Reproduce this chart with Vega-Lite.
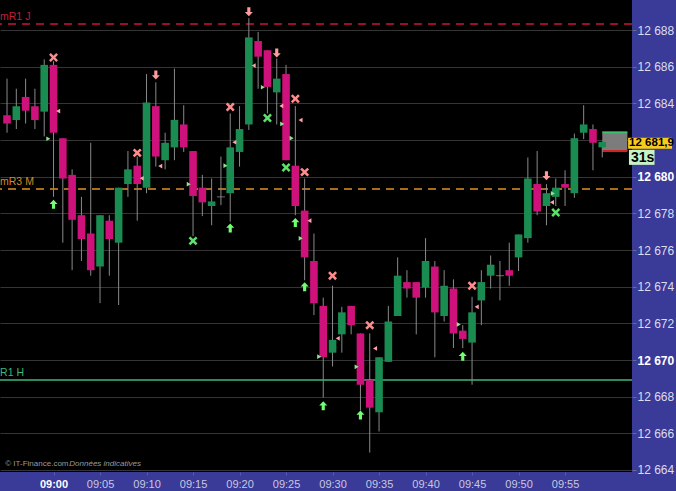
{
  "$schema": "https://vega.github.io/schema/vega-lite/v6.json",
  "width": 632,
  "height": 472,
  "autosize": {"type": "none"},
  "padding": {"left": 0, "top": 0, "right": 44, "bottom": 19},
  "background": "#3a3a98",
  "view": {"fill": "#000000", "stroke": null},
  "config": {"font": "Liberation Sans"},
  "resolve": {"scale": {"color": "independent", "shape": "independent", "strokeDash": "independent"}},
  "datasets": {
    "candles": [
      {"m": -5, "o": 12683.35, "h": 12685.35, "l": 12682.4, "c": 12682.9},
      {"m": -4, "o": 12683.1, "h": 12684.8, "l": 12682.6, "c": 12683.85},
      {"m": -3, "o": 12684.35, "h": 12685.35, "l": 12682.9, "c": 12683.6},
      {"m": -2, "o": 12683.85, "h": 12684.8, "l": 12682.6, "c": 12683.1},
      {"m": -1, "o": 12683.55, "h": 12686.4, "l": 12682.2, "c": 12686.1},
      {"m": 0, "o": 12686.1, "h": 12686.3, "l": 12678.9, "c": 12682.4},
      {"m": 1, "o": 12682.1, "h": 12682.1, "l": 12676.4, "c": 12679.9},
      {"m": 2, "o": 12680.1, "h": 12680.4, "l": 12674.9, "c": 12677.65},
      {"m": 3, "o": 12677.9, "h": 12678.9, "l": 12675.4, "c": 12676.6},
      {"m": 4, "o": 12676.9, "h": 12681.85, "l": 12674.6, "c": 12674.9},
      {"m": 5, "o": 12675.1, "h": 12677.9, "l": 12673.1, "c": 12677.9},
      {"m": 6, "o": 12677.6, "h": 12677.9, "l": 12674.6, "c": 12676.6},
      {"m": 7, "o": 12676.4, "h": 12679.4, "l": 12673.0, "c": 12679.4},
      {"m": 8, "o": 12679.6, "h": 12681.4, "l": 12678.9, "c": 12680.4},
      {"m": 9, "o": 12680.6, "h": 12681.1, "l": 12677.6, "c": 12679.6},
      {"m": 10, "o": 12679.4, "h": 12685.6, "l": 12679.1, "c": 12684.05},
      {"m": 11, "o": 12683.85, "h": 12685.15, "l": 12680.55, "c": 12681.1},
      {"m": 12, "o": 12680.9, "h": 12682.4, "l": 12680.4, "c": 12681.85},
      {"m": 13, "o": 12681.6, "h": 12685.9, "l": 12680.9, "c": 12683.1},
      {"m": 14, "o": 12682.85, "h": 12683.9, "l": 12681.35, "c": 12681.6},
      {"m": 15, "o": 12681.4, "h": 12681.4, "l": 12676.75, "c": 12678.95},
      {"m": 16, "o": 12679.4, "h": 12680.1, "l": 12677.85, "c": 12678.6},
      {"m": 17, "o": 12678.4, "h": 12679.9, "l": 12677.35, "c": 12678.65},
      {"m": 18, "o": 12678.9, "h": 12681.1, "l": 12678.45, "c": 12678.9},
      {"m": 19, "o": 12679.1, "h": 12683.45, "l": 12677.55, "c": 12681.6},
      {"m": 20, "o": 12681.35, "h": 12683.85, "l": 12680.55, "c": 12682.6},
      {"m": 21, "o": 12682.85, "h": 12688.65, "l": 12682.55, "c": 12687.6},
      {"m": 22, "o": 12687.4, "h": 12687.9, "l": 12684.8, "c": 12686.55},
      {"m": 23, "o": 12686.9, "h": 12686.9, "l": 12683.45, "c": 12684.9},
      {"m": 24, "o": 12684.6, "h": 12686.45, "l": 12682.85, "c": 12685.35},
      {"m": 25, "o": 12685.6, "h": 12686.1, "l": 12680.9, "c": 12680.9},
      {"m": 26, "o": 12680.6, "h": 12683.85, "l": 12677.9, "c": 12678.4},
      {"m": 27, "o": 12678.15, "h": 12679.9, "l": 12674.35, "c": 12675.6},
      {"m": 28, "o": 12675.4, "h": 12676.9, "l": 12672.45, "c": 12673.1},
      {"m": 29, "o": 12672.95, "h": 12673.4, "l": 12667.95, "c": 12670.15},
      {"m": 30, "o": 12670.4, "h": 12674.05, "l": 12669.65, "c": 12671.1},
      {"m": 31, "o": 12671.4, "h": 12672.9, "l": 12670.4, "c": 12672.6},
      {"m": 32, "o": 12672.95, "h": 12672.95, "l": 12671.4, "c": 12671.9},
      {"m": 33, "o": 12671.45, "h": 12671.45, "l": 12667.25, "c": 12668.65},
      {"m": 34, "o": 12668.9, "h": 12671.45, "l": 12664.95, "c": 12667.4},
      {"m": 35, "o": 12667.15, "h": 12670.15, "l": 12666.1, "c": 12670.15},
      {"m": 36, "o": 12669.9, "h": 12672.95, "l": 12669.9, "c": 12672.1},
      {"m": 37, "o": 12672.4, "h": 12675.6, "l": 12672.4, "c": 12674.6},
      {"m": 38, "o": 12674.25, "h": 12674.9, "l": 12673.4, "c": 12673.9},
      {"m": 39, "o": 12674.25, "h": 12674.25, "l": 12671.4, "c": 12673.4},
      {"m": 40, "o": 12673.95, "h": 12676.65, "l": 12673.4, "c": 12675.4},
      {"m": 41, "o": 12675.1, "h": 12675.4, "l": 12670.15, "c": 12672.6},
      {"m": 42, "o": 12672.4, "h": 12674.9, "l": 12672.1, "c": 12674.05},
      {"m": 43, "o": 12673.9, "h": 12674.4, "l": 12670.65, "c": 12671.45},
      {"m": 44, "o": 12671.6, "h": 12671.9, "l": 12670.65, "c": 12671.15},
      {"m": 45, "o": 12670.95, "h": 12673.45, "l": 12668.65, "c": 12672.6},
      {"m": 46, "o": 12673.25, "h": 12674.9, "l": 12671.9, "c": 12674.25},
      {"m": 47, "o": 12674.6, "h": 12675.7, "l": 12673.9, "c": 12675.2},
      {"m": 48, "o": 12674.6, "h": 12675.4, "l": 12673.25, "c": 12674.6},
      {"m": 49, "o": 12674.9, "h": 12676.4, "l": 12674.05, "c": 12674.6},
      {"m": 50, "o": 12675.6, "h": 12676.85, "l": 12674.85, "c": 12676.85},
      {"m": 51, "o": 12676.65, "h": 12681.05, "l": 12676.4, "c": 12679.9},
      {"m": 52, "o": 12679.6, "h": 12681.4, "l": 12677.9, "c": 12678.1},
      {"m": 53, "o": 12678.4, "h": 12679.6, "l": 12677.35, "c": 12679.1},
      {"m": 54, "o": 12678.9, "h": 12679.9, "l": 12678.4, "c": 12679.4},
      {"m": 55, "o": 12679.6, "h": 12680.35, "l": 12678.4, "c": 12679.4},
      {"m": 56, "o": 12679.1, "h": 12682.35, "l": 12678.85, "c": 12682.1},
      {"m": 57, "o": 12682.4, "h": 12683.9, "l": 12682.05, "c": 12682.85},
      {"m": 58, "o": 12682.6, "h": 12682.85, "l": 12680.35, "c": 12681.85},
      {"m": 59, "o": 12681.6, "h": 12681.9, "l": 12681.05, "c": 12681.9}
    ],
    "levels": [
      {"name": "mR1 J", "p": 12688.33},
      {"name": "mR3 M", "p": 12679.33},
      {"name": "R1 H", "p": 12668.91}
    ],
    "signals": [
      {"m": 0, "p": 12686.5, "kind": "xp"},
      {"m": 9, "p": 12681.3, "kind": "xp"},
      {"m": 19, "p": 12683.8, "kind": "xp"},
      {"m": 26, "p": 12684.25, "kind": "xp"},
      {"m": 27, "p": 12680.25, "kind": "xp"},
      {"m": 30, "p": 12674.6, "kind": "xp"},
      {"m": 34, "p": 12671.9, "kind": "xp"},
      {"m": 45, "p": 12674.05, "kind": "xp"},
      {"m": 15, "p": 12676.5, "kind": "xg"},
      {"m": 23, "p": 12683.2, "kind": "xg"},
      {"m": 25, "p": 12680.5, "kind": "xg"},
      {"m": 54, "p": 12678.05, "kind": "xg"},
      {"m": 11, "p": 12685.55, "kind": "dn"},
      {"m": 21, "p": 12689.0, "kind": "dn"},
      {"m": 24, "p": 12686.75, "kind": "dn"},
      {"m": 53, "p": 12680.05, "kind": "dn"},
      {"m": 0, "p": 12678.5, "kind": "up"},
      {"m": 19, "p": 12677.2, "kind": "up"},
      {"m": 26, "p": 12677.5, "kind": "up"},
      {"m": 27, "p": 12674.0, "kind": "up"},
      {"m": 29, "p": 12667.5, "kind": "up"},
      {"m": 33, "p": 12667.0, "kind": "up"},
      {"m": 44, "p": 12670.2, "kind": "up"},
      {"m": -0.56, "p": 12682.07, "kind": "tr"},
      {"m": 0.5, "p": 12683.58, "kind": "tl"},
      {"m": 9.49, "p": 12679.91, "kind": "tl"},
      {"m": 11.47, "p": 12680.58, "kind": "tl"},
      {"m": 14.54, "p": 12679.59, "kind": "tr"},
      {"m": 18.49, "p": 12680.6, "kind": "tr"},
      {"m": 19.44, "p": 12681.88, "kind": "tl"},
      {"m": 21.52, "p": 12686.06, "kind": "tl"},
      {"m": 22.51, "p": 12684.88, "kind": "tr"},
      {"m": 24.49, "p": 12683.86, "kind": "tl"},
      {"m": 24.59, "p": 12682.88, "kind": "tr"},
      {"m": 25.6, "p": 12682.1, "kind": "tr"},
      {"m": 26.56, "p": 12683.09, "kind": "tl"},
      {"m": 27.51, "p": 12677.6, "kind": "tl"},
      {"m": 26.58, "p": 12676.64, "kind": "tr"},
      {"m": 30.56, "p": 12671.18, "kind": "tl"},
      {"m": 28.57, "p": 12670.18, "kind": "tr"},
      {"m": 32.59, "p": 12669.63, "kind": "tr"},
      {"m": 34.57, "p": 12670.63, "kind": "tl"},
      {"m": 43.57, "p": 12671.94, "kind": "tr"},
      {"m": 45.5, "p": 12672.9, "kind": "tl"},
      {"m": 53.69, "p": 12679.09, "kind": "tr"},
      {"m": 53.59, "p": 12678.6, "kind": "tl"}
    ],
    "spread": [{"m": 59, "m2": 61.7, "lo": 12681.4, "hi": 12682.42}],
    "quote": [{"p": 12681.9, "label": "12 681,9", "timer": "31s"}],
    "credit": [{"a": "© IT-Finance.com", "b": "Données indicatives"}]
  },
  "layer": [
    {
      "data": {"name": "spread"},
      "mark": {"type": "rect", "color": "#7c7c7c"},
      "encoding": {
        "x": {"field": "m", "type": "quantitative", "title": null, "scale": {"domain": [-5.217, 61.66], "nice": false, "zero": false},
          "axis": {"orient": "bottom", "title": null, "values": [0, 5, 10, 15, 20, 25, 30, 35, 40, 45, 50, 55], "tickCount": 40,
            "labelExpr": "'09:' + (datum.value < 10 ? '0' : '') + datum.value",
            "labelOverlap": false, "labelBound": false,
            "labelFontSize": 11, "labelColor": {"condition": {"test": "datum.value == 0", "value": "#ffffff"}, "value": "#c8c8e0"},
            "labelFontWeight": {"condition": {"test": "datum.value == 0", "value": "bold"}, "value": "normal"},
            "grid": false, "domain": false, "ticks": true, "tickSize": 3, "tickColor": "#5a5aa8", "labelPadding": 3}},
        "x2": {"field": "m2"},
        "y": {"field": "lo", "type": "quantitative", "title": null, "scale": {"domain": [12663.89, 12689.64], "nice": false, "zero": false},
          "axis": {"orient": "right", "title": null, "values": [12664, 12666, 12668, 12670, 12672, 12674, 12676, 12678, 12680, 12682, 12684, 12686, 12688], "tickCount": 40,
            "labelExpr": "datum.value == 12682 ? '' : slice(toString(datum.value), 0, 2) + ' ' + slice(toString(datum.value), 2)",
            "labelOverlap": false, "labelBound": false,
            "labelFontSize": 12, "labelColor": {"condition": {"test": "datum.value % 10 == 0", "value": "#ffffff"}, "value": "#dcdcec"},
            "labelFontWeight": {"condition": {"test": "datum.value % 10 == 0", "value": "bold"}, "value": "normal"},
            "grid": true, "gridColor": "#353535", "gridWidth": 1, "domain": false, "tickSize": 4, "tickColor": "#6a6a8a", "labelPadding": 1}},
        "y2": {"field": "hi"}
      }
    },
    {
      "data": {"name": "spread"},
      "mark": {"type": "rule", "color": "#3fbf6a", "strokeWidth": 2},
      "encoding": {
        "x": {"field": "m", "type": "quantitative", "title": null, "scale": {"domain": [-5.217, 61.66], "nice": false, "zero": false}},
        "x2": {"field": "m2"},
        "y": {"field": "hi", "type": "quantitative", "title": null, "scale": {"domain": [12663.89, 12689.64], "nice": false, "zero": false}}
      }
    },
    {
      "data": {"name": "spread"},
      "mark": {"type": "rule", "color": "#d42020", "strokeWidth": 2},
      "encoding": {
        "x": {"field": "m", "type": "quantitative", "title": null, "scale": {"domain": [-5.217, 61.66], "nice": false, "zero": false}},
        "x2": {"field": "m2"},
        "y": {"field": "lo", "type": "quantitative", "title": null, "scale": {"domain": [12663.89, 12689.64], "nice": false, "zero": false}}
      }
    },
    {
      "data": {"name": "levels"},
      "mark": {"type": "rule", "strokeWidth": 1.5},
      "encoding": {
        "y": {"field": "p", "type": "quantitative", "title": null, "scale": {"domain": [12663.89, 12689.64], "nice": false, "zero": false}},
        "color": {"field": "name", "type": "nominal", "scale": {"domain": ["mR1 J", "mR3 M", "R1 H"], "range": ["#c8143c", "#e0902a", "#3cb878"]}, "legend": null},
        "strokeDash": {"field": "name", "type": "nominal", "scale": {"domain": ["mR1 J", "mR3 M", "R1 H"], "range": [[8, 6], [8, 6], [1, 0]]}, "legend": null}
      }
    },
    {
      "data": {"name": "levels"},
      "mark": {"type": "text", "align": "left", "baseline": "bottom", "dy": -2, "fontSize": 10.5},
      "encoding": {
        "x": {"datum": -5.75, "type": "quantitative", "title": null, "scale": {"domain": [-5.217, 61.66], "nice": false, "zero": false}},
        "y": {"field": "p", "type": "quantitative", "title": null, "scale": {"domain": [12663.89, 12689.64], "nice": false, "zero": false}},
        "text": {"field": "name"},
        "color": {"field": "name", "type": "nominal", "scale": {"domain": ["mR1 J", "mR3 M", "R1 H"], "range": ["#c0203c", "#d08a28", "#3cb878"]}, "legend": null}
      }
    },
    {
      "data": {"name": "candles"},
      "mark": {"type": "rule", "color": "#8a8a8a", "strokeWidth": 1},
      "encoding": {
        "x": {"field": "m", "type": "quantitative", "title": null, "scale": {"domain": [-5.217, 61.66], "nice": false, "zero": false}},
        "y": {"field": "l", "type": "quantitative", "title": null, "scale": {"domain": [12663.89, 12689.64], "nice": false, "zero": false}},
        "y2": {"field": "h"}
      }
    },
    {
      "data": {"name": "candles"},
      "mark": {"type": "bar", "size": 7.6},
      "encoding": {
        "x": {"field": "m", "type": "quantitative", "title": null, "scale": {"domain": [-5.217, 61.66], "nice": false, "zero": false}},
        "y": {"field": "o", "type": "quantitative", "title": null, "scale": {"domain": [12663.89, 12689.64], "nice": false, "zero": false}},
        "y2": {"field": "c"},
        "color": {"condition": [{"test": "datum.c > datum.o", "value": "#1a8c52"}, {"test": "datum.c < datum.o", "value": "#cf127b"}], "value": "#8a8a8a"}
      }
    },
    {
      "data": {"name": "candles"},
      "transform": [{"filter": "datum.o == datum.c"}],
      "mark": {"type": "tick", "orient": "horizontal", "size": 8, "thickness": 1, "color": "#9a9a9a"},
      "encoding": {
        "x": {"field": "m", "type": "quantitative", "title": null, "scale": {"domain": [-5.217, 61.66], "nice": false, "zero": false}},
        "y": {"field": "o", "type": "quantitative", "title": null, "scale": {"domain": [12663.89, 12689.64], "nice": false, "zero": false}}
      }
    },
    {
      "data": {"name": "signals"},
      "transform": [{"filter": "indexof(['xp','xg','up','dn'], datum.kind) >= 0"}],
      "mark": {"type": "point", "filled": true, "opacity": 1, "size": 80, "strokeWidth": 0},
      "encoding": {
        "x": {"field": "m", "type": "quantitative", "title": null, "scale": {"domain": [-5.217, 61.66], "nice": false, "zero": false}},
        "y": {"field": "p", "type": "quantitative", "title": null, "scale": {"domain": [12663.89, 12689.64], "nice": false, "zero": false}},
        "shape": {"field": "kind", "type": "nominal", "legend": null, "scale": {"domain": ["xp", "xg", "up", "dn"], "range": [
          "M-1,-0.6L-0.6,-1L0,-0.4L0.6,-1L1,-0.6L0.4,0L1,0.6L0.6,1L0,0.4L-0.6,1L-1,0.6L-0.4,0Z",
          "M-1,-0.6L-0.6,-1L0,-0.4L0.6,-1L1,-0.6L0.4,0L1,0.6L0.6,1L0,0.4L-0.6,1L-1,0.6L-0.4,0Z",
          "M0,-1L0.9,-0.05L0.35,-0.05L0.35,1L-0.35,1L-0.35,-0.05L-0.9,-0.05Z",
          "M0,1L0.9,0.05L0.35,0.05L0.35,-1L-0.35,-1L-0.35,0.05L-0.9,0.05Z"]}},
        "color": {"field": "kind", "type": "nominal", "legend": null, "scale": {"domain": ["xp", "xg", "up", "dn"], "range": ["#ff8c8c", "#5ee06a", "#70ff70", "#ff9b9b"]}}
      }
    },
    {
      "data": {"name": "signals"},
      "transform": [{"filter": "indexof(['tl','tr'], datum.kind) >= 0"}],
      "mark": {"type": "point", "filled": true, "opacity": 1, "size": 22, "strokeWidth": 0},
      "encoding": {
        "x": {"field": "m", "type": "quantitative", "title": null, "scale": {"domain": [-5.217, 61.66], "nice": false, "zero": false}},
        "y": {"field": "p", "type": "quantitative", "title": null, "scale": {"domain": [12663.89, 12689.64], "nice": false, "zero": false}},
        "shape": {"field": "kind", "type": "nominal", "legend": null, "scale": {"domain": ["tl", "tr"], "range": ["triangle-left", "triangle-right"]}},
        "color": {"field": "kind", "type": "nominal", "legend": null, "scale": {"domain": ["tl", "tr"], "range": ["#ffa0aa", "#8fe58f"]}}
      }
    },
    {
      "data": {"name": "quote"},
      "mark": {"type": "rect", "color": "#f7cb1c", "yOffset": -4, "y2Offset": 7},
      "encoding": {
        "x": {"datum": 61.78, "type": "quantitative", "title": null, "scale": {"domain": [-5.217, 61.66], "nice": false, "zero": false}},
        "x2": {"datum": 66.5},
        "y": {"field": "p", "type": "quantitative", "title": null, "scale": {"domain": [12663.89, 12689.64], "nice": false, "zero": false}},
        "y2": {"field": "p"}
      }
    },
    {
      "data": {"name": "quote"},
      "mark": {"type": "rect", "color": "#c6f2c6", "yOffset": 8, "y2Offset": 23},
      "encoding": {
        "x": {"datum": 61.87, "type": "quantitative", "title": null, "scale": {"domain": [-5.217, 61.66], "nice": false, "zero": false}},
        "x2": {"datum": 64.62},
        "y": {"field": "p", "type": "quantitative", "title": null, "scale": {"domain": [12663.89, 12689.64], "nice": false, "zero": false}},
        "y2": {"field": "p"}
      }
    },
    {
      "data": {"name": "quote"},
      "mark": {"type": "text", "align": "left", "baseline": "middle", "dx": 1, "dy": 1.5, "fontSize": 11.5, "fontWeight": "bold", "color": "#000000"},
      "encoding": {
        "x": {"datum": 61.78, "type": "quantitative", "title": null, "scale": {"domain": [-5.217, 61.66], "nice": false, "zero": false}},
        "y": {"field": "p", "type": "quantitative", "title": null, "scale": {"domain": [12663.89, 12689.64], "nice": false, "zero": false}},
        "text": {"field": "label"}
      }
    },
    {
      "data": {"name": "quote"},
      "mark": {"type": "text", "align": "left", "baseline": "middle", "dx": 2, "dy": 16, "fontSize": 14, "fontWeight": "bold", "color": "#000000"},
      "encoding": {
        "x": {"datum": 61.87, "type": "quantitative", "title": null, "scale": {"domain": [-5.217, 61.66], "nice": false, "zero": false}},
        "y": {"field": "p", "type": "quantitative", "title": null, "scale": {"domain": [12663.89, 12689.64], "nice": false, "zero": false}},
        "text": {"field": "timer"}
      }
    },
    {
      "data": {"name": "credit"},
      "mark": {"type": "text", "align": "left", "baseline": "middle", "fontSize": 8, "color": "#9a9a9a"},
      "encoding": {
        "x": {"datum": -5.19, "type": "quantitative", "title": null, "scale": {"domain": [-5.217, 61.66], "nice": false, "zero": false}},
        "y": {"datum": 12664.35, "type": "quantitative", "title": null, "scale": {"domain": [12663.89, 12689.64], "nice": false, "zero": false}},
        "text": {"field": "a"}
      }
    },
    {
      "data": {"name": "credit"},
      "mark": {"type": "text", "align": "left", "baseline": "middle", "fontSize": 8, "fontStyle": "italic", "color": "#9a9a9a"},
      "encoding": {
        "x": {"datum": 1.7, "type": "quantitative", "title": null, "scale": {"domain": [-5.217, 61.66], "nice": false, "zero": false}},
        "y": {"datum": 12664.35, "type": "quantitative", "title": null, "scale": {"domain": [12663.89, 12689.64], "nice": false, "zero": false}},
        "text": {"field": "b"}
      }
    }
  ]
}
